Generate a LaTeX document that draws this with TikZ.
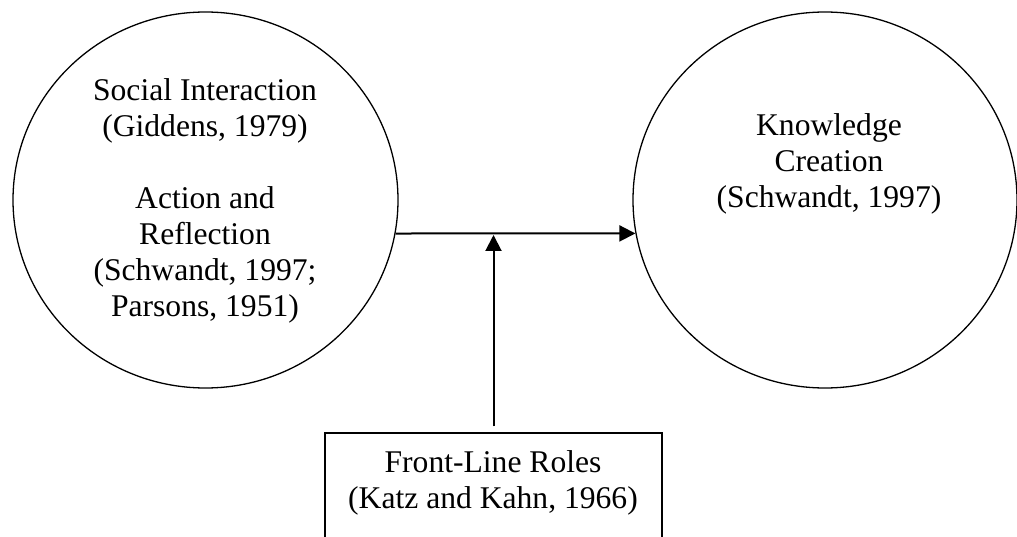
\documentclass[tikz,border=0pt]{standalone}
\usepackage{fontspec}
\setmainfont{Liberation Serif}
\usetikzlibrary{shapes.geometric,arrows.meta}
\begin{document}
\begin{tikzpicture}[x=1pt,y=-1pt,
  circ/.style={draw,ellipse,line width=1.3pt,inner sep=0pt},
  boxn/.style={draw,rectangle,line width=1.3pt,inner sep=0pt},
  txt/.style={align=center,inner sep=0pt,anchor=north,font=\fontsize{31.6}{36}\selectfont},
  arr/.style={line width=2pt,-{Triangle[length=16pt,width=16pt]}}]
\useasboundingbox (0,0) rectangle (1017,537);
\node[circ,minimum width=385pt,minimum height=376pt] (L) at (205.5,200) {};
\node[circ,minimum width=384pt,minimum height=376pt] (R) at (825,200) {};
\node[boxn,minimum width=337pt,minimum height=140pt] (B) at (493.5,503) {};
\node[txt] (Lt) at (205,78) {Social Interaction\\(Giddens, 1979)\\[36pt]Action and\\Reflection\\(Schwandt, 1997;\\Parsons, 1951)};
\node[txt] (Rt) at (829,113) {Knowledge\\Creation\\(Schwandt, 1997)};
\node[txt] (Bt) at (493,450) {Front-Line Roles\\(Katz and Kahn, 1966)};
\coordinate (m) at (493.5,235);
\draw[arr] (L.-10.17) -- (R.190.25);
\draw[arr] ([yshift=6pt]B.north) -- (m);
\end{tikzpicture}
\end{document}
